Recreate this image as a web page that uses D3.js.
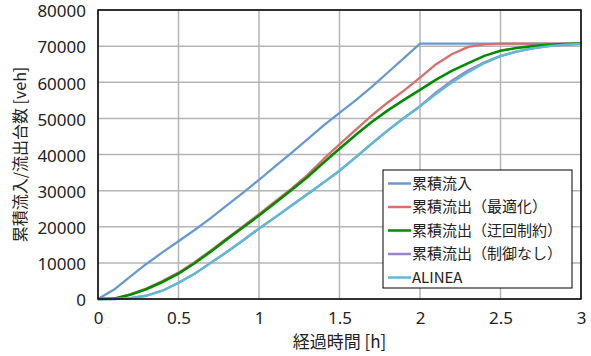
<!DOCTYPE html>
<html>
<head>
<meta charset="utf-8">
<script src="https://cdn.jsdelivr.net/npm/d3@7"></script>
<style>
  body { margin: 0; background: #fff; }
  text { font-family: 'Noto Sans CJK JP', 'Noto Sans', sans-serif; fill: #222; }
  .tick text { font-family: 'Noto Sans', sans-serif; }
</style>
</head>
<body>
<svg id="chart" width="591" height="356"></svg>
<script>
// time [h], 0.1 h steps
const hours = d3.range(0, 31).map(i => i / 10);

const inflow = [0, 2600, 6200, 9700, 12900, 16000, 19100, 22400, 25900, 29400,
  33000, 36700, 40400, 44200, 48000, 51500, 55000, 58700, 62700, 66700,
  70700, 70700, 70700, 70700, 70700, 70700, 70700, 70700, 70700, 70700, 70700];
const outOptimal = [0, 100, 1300, 2900, 5000, 7300, 10200, 13400, 16800, 20100,
  23500, 27000, 30500, 34300, 38700, 42800, 46800, 50800, 54400, 57700,
  61300, 65000, 67800, 69800, 70500, 70700, 70700, 70700, 70700, 70700, 70700];
const outDetour = [0, 100, 1200, 2700, 4700, 7000, 9900, 13100, 16500, 19800,
  23100, 26600, 30100, 33700, 37700, 41600, 45400, 49000, 52200, 55100,
  57900, 60700, 63200, 65300, 67300, 68700, 69500, 70000, 70400, 70600, 70700];
const outNoControl = [0, 0, 250, 900, 2300, 4500, 7000, 10000, 13000, 16200,
  19500, 22600, 25800, 29000, 32200, 35500, 39200, 43000, 46700, 50100,
  53400, 57200, 60500, 63300, 65500, 67300, 68500, 69400, 70000, 70400, 70600];
const alinea = [0, 0, 250, 900, 2300, 4500, 7000, 10000, 13000, 16200,
  19500, 22600, 25800, 29000, 32200, 35500, 39200, 43000, 46700, 50100,
  53300, 56800, 60000, 62800, 65300, 67200, 68500, 69400, 70000, 70400, 70600];

const seriesNames = ['累積流入', '累積流出（最適化）', '累積流出（迂回制約）', '累積流出（制御なし）', 'ALINEA'];
const seriesValues = [inflow, outOptimal, outDetour, outNoControl, alinea];
const colors = ['#6799d2', '#d96f6b', '#008c00', '#9a84c6', '#5bbbd6'];
// draw order: purple under cyan, red under green
const drawOrder = [0, 1, 3, 2, 4];

const xTicks = [0, 0.5, 1, 1.5, 2, 2.5, 3];
const yTicks = [0, 10000, 20000, 30000, 40000, 50000, 60000, 70000, 80000];

const margin = { top: 10, right: 10, bottom: 57, left: 98 };
const width = 591 - margin.left - margin.right;
const height = 356 - margin.top - margin.bottom;

const svg = d3.select('#chart');
const chart = svg.append('g')
  .attr('transform', `translate(${margin.left}, ${margin.top})`);

const xScale = d3.scaleLinear().domain([0, 3]).range([0, width]);
const yScale = d3.scaleLinear().domain([0, 80000]).range([height, 0]);

// grid
chart.append('g')
  .selectAll('line')
  .data(yTicks)
  .enter()
  .append('line')
  .attr('x1', 0)
  .attr('x2', width)
  .attr('y1', d => yScale(d))
  .attr('y2', d => yScale(d))
  .attr('stroke', '#b5b5b5')
  .attr('stroke-width', 1.5);
chart.append('g')
  .selectAll('line')
  .data(xTicks)
  .enter()
  .append('line')
  .attr('x1', d => xScale(d))
  .attr('x2', d => xScale(d))
  .attr('y1', 0)
  .attr('y2', height)
  .attr('stroke', '#b5b5b5')
  .attr('stroke-width', 1.5);

// axes (labels only)
const xAxis = chart.append('g')
  .attr('transform', `translate(0, ${height})`)
  .call(d3.axisBottom(xScale).tickValues(xTicks).tickSize(0).tickPadding(13)
    .tickFormat(d => String(d)));
const yAxis = chart.append('g')
  .call(d3.axisLeft(yScale).tickValues(yTicks).tickSize(0).tickPadding(12)
    .tickFormat(d => String(d)));
[xAxis, yAxis].forEach((a) => {
  a.select('.domain').remove();
  a.selectAll('text').style('font-size', '17px').attr('fill', '#222');
});
yAxis.selectAll('text').attr('dy', '0.4em');

// lines
const line = d3.line()
  .x((d, i) => xScale(hours[i]))
  .y(d => yScale(d));

chart.append('g')
  .selectAll('path')
  .data(drawOrder)
  .enter()
  .append('path')
  .attr('d', k => line(seriesValues[k]))
  .attr('fill', 'none')
  .attr('stroke', k => colors[k])
  .attr('stroke-width', k => (k === 2 ? 2.6 : 2.3))
  .attr('stroke-linejoin', 'round');

// frame
chart.append('rect')
  .attr('x', 0)
  .attr('y', 0)
  .attr('width', width)
  .attr('height', height)
  .attr('fill', 'none')
  .attr('stroke', '#000')
  .attr('stroke-width', 1.5);

// axis titles
svg.append('text')
  .attr('x', margin.left + width / 2)
  .attr('y', 348)
  .attr('text-anchor', 'middle')
  .style('font-size', '17px')
  .text('経過時間 [h]');
svg.append('text')
  .attr('transform', `translate(26, ${margin.top + height / 2}) rotate(-90)`)
  .attr('text-anchor', 'middle')
  .style('font-size', '16px')
  .text('累積流入/流出台数 [veh]');

// legend
const legend = svg.append('g').attr('transform', 'translate(383, 170)');
legend.append('rect')
  .attr('width', 189)
  .attr('height', 118)
  .attr('fill', '#fff')
  .attr('stroke', '#000')
  .attr('stroke-width', 1);
const item = legend.selectAll('.item')
  .data(seriesNames)
  .enter()
  .append('g')
  .attr('class', 'item')
  .attr('transform', (d, i) => `translate(0, ${13.5 + i * 23.5})`);
item.append('line')
  .attr('x1', 5)
  .attr('x2', 28)
  .attr('stroke', (d, i) => colors[i])
  .attr('stroke-width', 2.5);
item.append('text')
  .attr('x', 29)
  .attr('dy', '0.35em')
  .style('font-size', '15px')
  .text(d => d);
</script>
</body>
</html>
